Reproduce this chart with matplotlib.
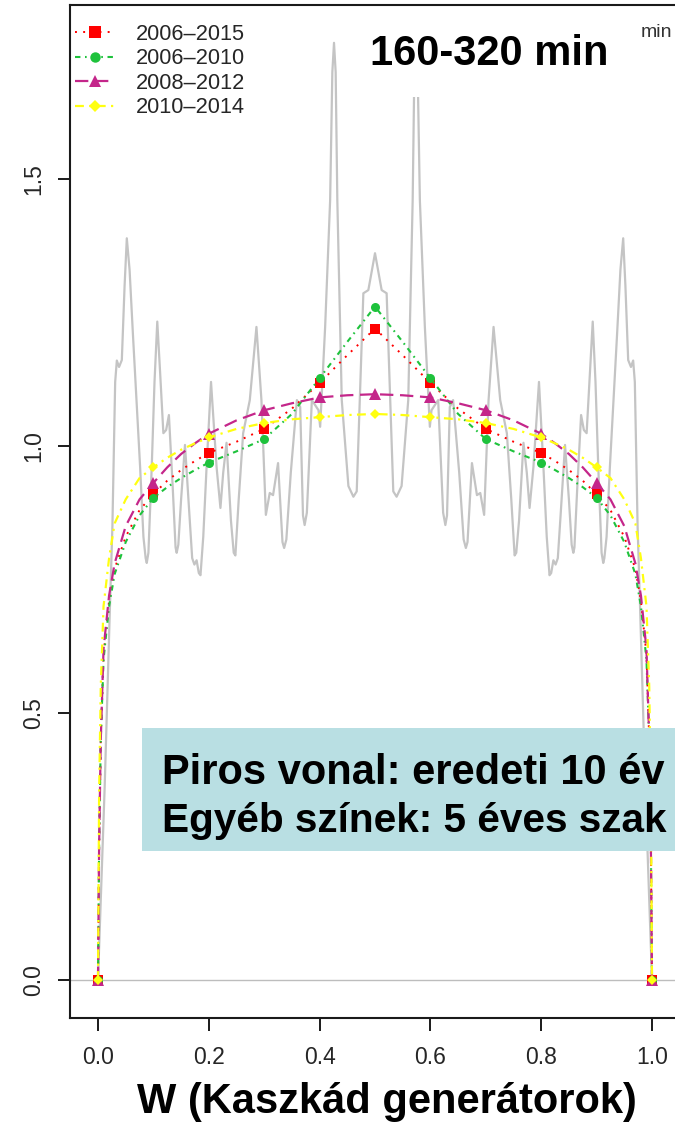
import matplotlib
matplotlib.use("Agg")
import matplotlib.pyplot as plt
from matplotlib.lines import Line2D
from matplotlib.patches import Rectangle

# ---- data -------------------------------------------------------------
# fitted curves, sampled on a common W grid
w_grid = [0.0, 0.002, 0.005, 0.01, 0.02, 0.03, 0.05, 0.075, 0.1, 0.125, 0.15, 0.175,
          0.2, 0.25, 0.3, 0.35, 0.4, 0.45, 0.5, 0.55, 0.6, 0.65, 0.7, 0.75, 0.8,
          0.825, 0.85, 0.875, 0.9, 0.925, 0.95, 0.97, 0.98, 0.99, 0.995, 0.998, 1.0]

fit_2006_2015 = [0.0, 0.25, 0.45, 0.61, 0.71, 0.77, 0.83, 0.88, 0.91, 0.935, 0.955, 0.972,
                 0.987, 1.008, 1.032, 1.07, 1.118, 1.17, 1.22, 1.17, 1.118, 1.07, 1.032, 1.008, 0.987,
                 0.972, 0.955, 0.935, 0.91, 0.88, 0.83, 0.77, 0.71, 0.61, 0.45, 0.25, 0.0]
fit_2006_2010 = [0.0, 0.25, 0.45, 0.60, 0.70, 0.76, 0.82, 0.87, 0.903, 0.923, 0.94, 0.955,
                 0.969, 0.99, 1.013, 1.06, 1.127, 1.195, 1.261, 1.195, 1.127, 1.06, 1.013, 0.99, 0.969,
                 0.955, 0.94, 0.923, 0.903, 0.87, 0.82, 0.76, 0.70, 0.60, 0.45, 0.25, 0.0]
fit_2008_2012 = [0.0, 0.25, 0.45, 0.62, 0.72, 0.78, 0.85, 0.90, 0.931, 0.96, 0.985, 1.005,
                 1.023, 1.048, 1.067, 1.08, 1.091, 1.095, 1.097, 1.095, 1.091, 1.08, 1.067, 1.048, 1.023,
                 1.005, 0.985, 0.96, 0.931, 0.90, 0.85, 0.78, 0.72, 0.62, 0.45, 0.25, 0.0]
fit_2010_2014 = [0.0, 0.35, 0.55, 0.70, 0.79, 0.855, 0.90, 0.94, 0.96, 0.978, 0.993, 1.005,
                 1.016, 1.032, 1.043, 1.05, 1.054, 1.058, 1.06, 1.058, 1.054, 1.05, 1.043, 1.032, 1.016,
                 1.005, 0.993, 0.978, 0.96, 0.94, 0.90, 0.855, 0.79, 0.70, 0.55, 0.35, 0.0]

# markers are drawn at W = 0, 0.1, ..., 1.0
marker_w = [0.0, 0.1, 0.2, 0.3, 0.4, 0.5, 0.6, 0.7, 0.8, 0.9, 1.0]

series_labels = ["2006\u20132015", "2006\u20132010", "2008\u20132012", "2010\u20132014"]

# empirical density of the cascade generators (grey)
emp_w = [0.000, 0.012, 0.021, 0.026, 0.031, 0.034, 0.038, 0.043, 0.048, 0.052, 0.057, 0.063,
         0.076, 0.082, 0.086, 0.088, 0.091, 0.097, 0.102, 0.107, 0.112, 0.118, 0.123, 0.128, 0.135,
         0.140, 0.142, 0.145, 0.150, 0.157, 0.165, 0.170, 0.174, 0.178, 0.182, 0.185, 0.190, 0.196,
         0.204, 0.214, 0.221,
         0.226, 0.232, 0.240, 0.245, 0.248, 0.254, 0.262, 0.274, 0.286, 0.295, 0.303, 0.310, 0.316,
         0.325, 0.333, 0.336, 0.340, 0.348, 0.359, 0.365, 0.370, 0.373, 0.377, 0.386, 0.398, 0.401,
         0.410, 0.419, 0.423,
         0.426, 0.429, 0.432, 0.440, 0.452, 0.461, 0.467, 0.479, 0.488, 0.500,
         0.512, 0.521, 0.533, 0.539, 0.548, 0.560, 0.568, 0.571, 0.574, 0.577, 0.581, 0.590, 0.599,
         0.602, 0.614, 0.623, 0.627, 0.630, 0.635, 0.641, 0.652, 0.660, 0.664, 0.667, 0.675, 0.684,
         0.690, 0.697, 0.705,
         0.714, 0.726, 0.738, 0.746, 0.752, 0.755, 0.760, 0.768, 0.774, 0.779, 0.786, 0.796, 0.804,
         0.810, 0.815, 0.818, 0.822, 0.826, 0.830, 0.835, 0.843, 0.850, 0.855, 0.858, 0.860, 0.865,
         0.872, 0.877, 0.882,
         0.888, 0.893, 0.898, 0.903, 0.909, 0.912, 0.914, 0.918, 0.924, 0.937, 0.943, 0.948, 0.952,
         0.957, 0.962, 0.966, 0.969, 0.974, 0.979, 0.988, 1.000]
emp_density = [0.000, 0.360, 0.680, 0.850, 1.120, 1.160, 1.148, 1.161, 1.300, 1.389, 1.330, 1.210,
               0.961, 0.830, 0.790, 0.781, 0.800, 0.961, 1.120, 1.233, 1.140, 1.024, 1.030, 1.058, 0.920,
               0.810, 0.800, 0.815, 0.900, 1.002, 0.870, 0.790, 0.778, 0.786, 0.762, 0.758, 0.830, 0.961,
               1.120, 0.961, 0.884,
               0.950, 1.006, 0.860, 0.800, 0.795, 0.900, 1.024, 1.086, 1.223, 1.086, 0.871, 0.912, 0.908,
               0.968, 0.820, 0.809, 0.825, 0.950, 1.086, 1.073, 0.870, 0.852, 0.875, 1.086, 1.067, 1.036,
               1.223, 1.460, 1.700,
               1.755, 1.700, 1.460, 1.086, 0.925, 0.905, 0.915, 1.286, 1.292, 1.361,
               1.292, 1.286, 0.915, 0.905, 0.925, 1.086, 1.460, 1.700, 1.755, 1.700, 1.460, 1.223, 1.036,
               1.067, 1.086, 0.875, 0.852, 0.870, 1.073, 1.086, 0.950, 0.825, 0.809, 0.820, 0.968, 0.908,
               0.912, 0.871, 1.086,
               1.223, 1.086, 1.024, 0.900, 0.795, 0.800, 0.860, 1.006, 0.950, 0.884, 0.961, 1.120, 0.961,
               0.830, 0.758, 0.762, 0.786, 0.778, 0.790, 0.870, 1.002, 0.900, 0.815, 0.800, 0.810, 0.920,
               1.058, 1.030, 1.024,
               1.140, 1.233, 1.120, 0.961, 0.800, 0.781, 0.790, 0.830, 0.961, 1.210, 1.330, 1.389, 1.300,
               1.161, 1.148, 1.160, 1.120, 0.850, 0.680, 0.360, 0.000]

x_ticks = [0.0, 0.2, 0.4, 0.6, 0.8, 1.0]
x_tick_labels = ["0.0", "0.2", "0.4", "0.6", "0.8", "1.0"]
y_ticks = [0.0, 0.5, 1.0, 1.5]
y_tick_labels = ["0.0", "0.5", "1.0", "1.5"]

# ---- figure -----------------------------------------------------------
plt.rcParams["font.family"] = ["Liberation Sans", "DejaVu Sans"]
W, H = 675, 1129
fig = plt.figure(figsize=(W / 100, H / 100), dpi=100)
fig.patch.set_facecolor("white")


def fx(px):
    return px / W


def fy(py):
    return 1 - py / H


ax = fig.add_axes([fx(70), fy(1018), (680 - 70) / W, (1018 - 5) / H])
ax.set_xlim(-28 / 554, 1 + 28 / 554)
ax.set_ylim(-38 / 534, 975 / 534)

# baseline and empirical density
ax.axhline(0, color="#bdbdbd", lw=1.0, zorder=1)
ax.plot(emp_w, emp_density, color="#c4c4c4", lw=1.6, zorder=2,
        solid_joinstyle="round")

mark_idx = [w_grid.index(m) for m in marker_w]
styles = [
    (fit_2006_2015, "#ff0000", (0, (1, 3.2)), 1.4, "s", 7.5),
    (fit_2006_2010, "#1ec23c", (0, (2.6, 2.2, 0.8, 2.2)), 1.5, "o", 6.5),
    (fit_2008_2012, "#c4268a", (0, (6, 3)), 1.6, "^", 8.0),
    (fit_2010_2014, "#ffff10", (0, (4, 2.4, 1, 2.4)), 1.6, "D", 5.0),
]
handles = []
for k, (vals, col, ls, lw, mk, ms) in enumerate(styles):
    ax.plot(w_grid, vals, color=col, linestyle=ls, lw=lw, marker=mk, ms=ms,
            markevery=mark_idx, markeredgewidth=0, zorder=3 + k, clip_on=False)
    handles.append(Line2D([], [], color=col, linestyle=ls, lw=lw, marker=mk,
                          ms=ms + 1, markeredgewidth=0))

for side in ["left", "bottom", "top", "right"]:
    ax.spines[side].set_linewidth(1.5)
    ax.spines[side].set_color("#1a1a1a")

ax.set_xticks(x_ticks)
ax.set_xticklabels(x_tick_labels)
ax.set_yticks(y_ticks)
ax.set_yticklabels(y_tick_labels, rotation=90, va="center")
ax.tick_params(axis="both", length=9, width=1.4, color="#1a1a1a",
               labelsize=16.5, labelcolor="#262626")
ax.tick_params(axis="x", pad=11)
ax.tick_params(axis="y", pad=9)

leg = ax.legend(handles, series_labels, loc="upper left",
                bbox_to_anchor=(fx(75), fy(24)), bbox_transform=fig.transFigure,
                frameon=False, fontsize=15.7, handlelength=1.8, handletextpad=1.0,
                labelspacing=0.16, borderaxespad=0, borderpad=0)
for t in leg.get_texts():
    t.set_color("#262626")

# title box
fig.patches.append(Rectangle((fx(343), fy(97)), (640 - 343) / W, (97 - 20) / H,
                             transform=fig.transFigure, facecolor="white",
                             edgecolor="none", zorder=10))
fig.text(fx(370), fy(65), "160-320 min", fontsize=30, fontweight="bold",
         color="black", ha="left", va="baseline", zorder=11)
fig.text(fx(641), fy(37), "min", fontsize=14, color="#333333",
         ha="left", va="baseline", zorder=11)

# note box
fig.patches.append(Rectangle((fx(142), fy(851)), (700 - 142) / W, (851 - 728) / H,
                             transform=fig.transFigure, facecolor="#b9dfe3",
                             edgecolor="none", zorder=10))
fig.text(fx(162), fy(784), "Piros vonal: eredeti 10 év", fontsize=30,
         fontweight="bold", color="black", ha="left", va="baseline", zorder=11)
fig.text(fx(162), fy(832), "Egyéb színek: 5 éves szak", fontsize=29.2,
         fontweight="bold", color="black", ha="left", va="baseline", zorder=11)

# axis title
fig.text(fx(387), fy(1113), "W (Kaszkád generátorok)", fontsize=30,
         fontweight="bold", color="black", ha="center", va="baseline")

fig.savefig("out.png", dpi=100, facecolor="white")
